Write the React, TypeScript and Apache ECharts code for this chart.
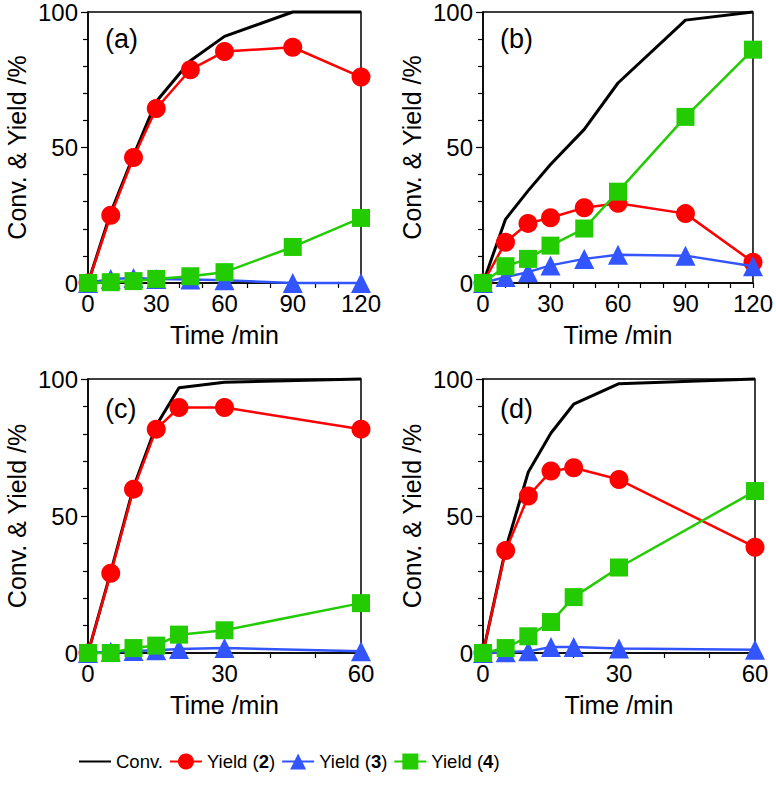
import React, { useEffect, useRef } from "react";
import * as echarts from "echarts";

// Time points (min)
const timesLong = [0, 10, 20, 30, 45, 60, 90, 120];
const timesShort = [0, 5, 10, 15, 20, 30, 60];

// Panel (a)
const convA = [0, 26, 47, 67, 82, 91, 100, 100];
const y2A = [0, 25, 46.3, 64.4, 78.7, 85.4, 87, 76];
const y3A = [0, 1.5, 1.8, 1.5, 1.3, 1, 0, 0];
const y4A = [0, 0.3, 0.7, 1.5, 2.5, 4, 13.3, 24];

// Panel (b)
const convB = [0, 23.5, 34, 43.7, 56.7, 73.8, 97, 100];
const y2B = [0, 15, 22, 24.1, 27.8, 29.4, 25.6, 7.7];
const y3B = [0, 2.2, 4, 6.5, 8.9, 10.4, 10.1, 6.2];
const y4B = [0, 6.2, 8.9, 13.8, 20.1, 33.7, 61.3, 86.1];

// Panel (c)
const convC = [0, 29.5, 60.5, 83, 96.8, 98.8, 100];
const y2C = [0, 29.1, 59.8, 81.7, 89.6, 89.6, 81.7];
const y3C = [0, 0.5, 0.7, 1, 1.5, 1.8, 0.6];
const y4C = [0, 0, 1.8, 2.7, 6.7, 8.3, 18.2];

// Panel (d)
const convD = [0, 38, 66.1, 80.3, 90.8, 98.3, 100];
const y2D = [0, 37.4, 57.3, 66.4, 67.6, 63.3, 38.6];
const y3D = [0, 0.3, 0.6, 2.2, 2.2, 1.6, 1.2];
const y4D = [0, 1.8, 6.1, 11.3, 20.4, 31.2, 59.1];

const panelLabels = ["(a)", "(b)", "(c)", "(d)"];
const seriesNames = ["Conv.", "Yield (2)", "Yield (3)", "Yield (4)"];
const xAxisName = "Time /min";
const yAxisName = "Conv. & Yield /%";

const COLORS = ["#000000", "#ff0000", "#3355ff", "#22cc00"];
const SYMBOLS = ["none", "circle", "triangle", "rect"];
const SYMBOL_SIZES = [0, 19, 20, 18];

const FONT = "'Liberation Sans', Arial, Helvetica, sans-serif";

export default function App() {
  const ref = useRef<HTMLDivElement>(null);

  useEffect(() => {
    document.body.style.margin = "0";
    if (!ref.current) return;
    const chart = echarts.init(ref.current, null, { renderer: "svg" });

    const grids = [
      { left: 88, top: 9.5, width: 273, height: 273.5 },
      { left: 483, top: 9.5, width: 272, height: 273.5 },
      { left: 88, top: 379, width: 273, height: 274 },
      { left: 483, top: 379, width: 272, height: 274 },
    ];

    const panels = [
      { times: timesLong, max: 120, data: [convA, y2A, y3A, y4A] },
      { times: timesLong, max: 120, data: [convB, y2B, y3B, y4B] },
      { times: timesShort, max: 60, data: [convC, y2C, y3C, y4C] },
      { times: timesShort, max: 60, data: [convD, y2D, y3D, y4D] },
    ];

    const axisLabel = { color: "#000", fontSize: 24, fontFamily: FONT };

    const xAxes = panels.map((p, i) => ({
      type: "value",
      gridIndex: i,
      min: 0,
      max: p.max,
      interval: 30,
      name: xAxisName,
      nameLocation: "middle",
      nameGap: 39,
      nameTextStyle: { color: "#000", fontSize: 25, fontFamily: FONT },
      axisLine: { show: true, onZero: false, lineStyle: { color: "#000", width: 1.5 } },
      axisTick: { show: true, inside: false, length: 5, lineStyle: { color: "#000", width: 1.2 } },
      minorTick: { show: true, splitNumber: 3, length: 5, lineStyle: { color: "#000", width: 1.2 } },
      splitLine: { show: false },
      minorSplitLine: { show: false },
      axisLabel: { ...axisLabel, margin: 8 },
    }));

    const yAxes = panels.map((_, i) => ({
      type: "value",
      gridIndex: i,
      min: 0,
      max: 100,
      interval: 50,
      name: yAxisName,
      nameLocation: "middle",
      nameGap: 59,
      nameTextStyle: { color: "#000", fontSize: 25, fontFamily: FONT },
      axisLine: { show: true, lineStyle: { color: "#000", width: 1.5 } },
      axisTick: { show: true, inside: false, length: 7, lineStyle: { color: "#000", width: 1.2 } },
      minorTick: { show: true, splitNumber: 5, length: 5, lineStyle: { color: "#000", width: 1.2 } },
      splitLine: { show: false },
      minorSplitLine: { show: false },
      axisLabel: { ...axisLabel, margin: 10 },
    }));

    const series: any[] = [];
    panels.forEach((p, pi) => {
      p.data.forEach((vals, si) => {
        series.push({
          name: seriesNames[si],
          type: "line",
          xAxisIndex: pi,
          yAxisIndex: pi,
          data: p.times.map((t, k) => [t, vals[k]]),
          symbol: SYMBOLS[si],
          symbolSize: SYMBOL_SIZES[si],
          showSymbol: si !== 0,
          clip: false,
          color: COLORS[si],
          lineStyle: { color: COLORS[si], width: si === 0 ? 3 : 2.5 },
          itemStyle: { color: COLORS[si] },
          z: 2 + si,
        });
      });
    });

    const graphics = grids.map((g, i) => ({
      type: "text",
      left: g.left + 17,
      top: g.top + 16,
      style: {
        text: panelLabels[i],
        fontSize: 27,
        fontFamily: FONT,
        fill: "#000",
      },
    }));

    chart.setOption({
      animation: false,
      backgroundColor: "#fff",
      grid: grids.map((g) => ({
        ...g,
        show: true,
        borderColor: "#000",
        borderWidth: 1.5,
        backgroundColor: "transparent",
        containLabel: false,
      })),
      xAxis: xAxes,
      yAxis: yAxes,
      series,
      graphic: graphics,
      legend: {
        data: [
          { name: seriesNames[0], itemStyle: { opacity: 0 } },
          seriesNames[1],
          seriesNames[2],
          seriesNames[3],
        ],
        left: 73,
        top: 747,
        itemWidth: 32,
        itemHeight: 20,
        itemGap: 6,
        textStyle: {
          color: "#000",
          fontSize: 18.5,
          fontFamily: FONT,
          rich: {
            b: {
              fontSize: 18.5,
              fontWeight: "bold",
              fontFamily: FONT,
              color: "#000",
            },
          },
        },
        formatter: (name: string) => name.replace(/\((\d)\)/, "({b|$1})"),
      },
    });

    return () => chart.dispose();
  }, []);

  return <div ref={ref} style={{ width: 776, height: 785 }} />;
}
